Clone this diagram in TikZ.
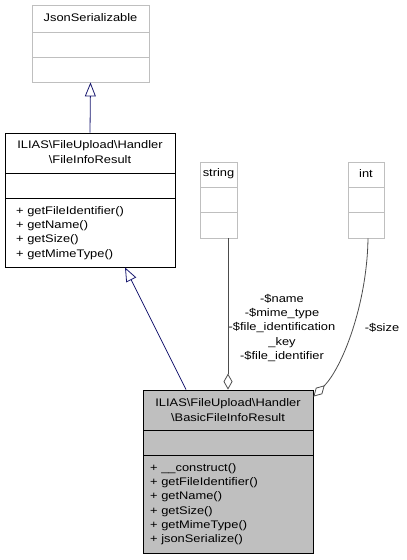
\documentclass[tikz,border=0pt]{standalone}
\usepackage{fontspec}
\setmainfont{Liberation Sans}[FakeStretch=1.17]
\usetikzlibrary{arrows.meta}
\begin{document}
\begin{tikzpicture}[x=1pt,y=-1pt,
  every node/.style={font=\fontsize{11}{14.3}\selectfont, inner sep=0pt},
  greybox/.style={draw=black!25, line width=0.8pt, fill=white, inner sep=0pt},
  blackbox/.style={draw=black, line width=0.8pt, fill=white, inner sep=0pt},
  basicbox/.style={draw=black, line width=0.8pt, fill=black!25, inner sep=0pt},
  inherit/.style={draw={rgb,255:red,25;green,25;blue,112}, line width=0.8pt, -{Triangle[open, length=14pt, width=11pt]}},
  agg/.style={draw=black!70, line width=0.8pt, -{Diamond[open, length=16pt, width=9pt]}},
]
\useasboundingbox (0,0) rectangle (407,560);
% JsonSerializable
\node[greybox, minimum width=117pt, minimum height=77pt] (json) at (90.5,43.5) {};
\draw[black!25, line width=0.8pt] (32,32) -- (149,32) (32,57) -- (149,57);
\node (jsonT) at (90.5,18) {JsonSerializable};
% FileInfoResult
\node[blackbox, minimum width=170pt, minimum height=134pt] (fir) at (90,200) {};
\draw[line width=0.8pt] (5,173) -- (175,173) (5,198) -- (175,198);
\node[align=center] (firT) at (90,152) {ILIAS\textbackslash FileUpload\textbackslash Handler\\\textbackslash FileInfoResult};
\node[align=left, anchor=north west] (firM) at (16,206) {+ getFileIdentifier()\\+ getName()\\+ getSize()\\+ getMimeType()};
% string
\node[greybox, minimum width=37pt, minimum height=76pt] (str) at (218.5,200) {};
\draw[black!25, line width=0.8pt] (200,187) -- (237,187) (200,212) -- (237,212);
\node (strT) at (218.5,174) {string};
% int
\node[greybox, minimum width=36pt, minimum height=76pt] (int) at (366,200) {};
\draw[black!25, line width=0.8pt] (348,187) -- (384,187) (348,212) -- (384,212);
\node (intT) at (366,174) {int};
% BasicFileInfoResult
\node[basicbox, minimum width=170pt, minimum height=163pt] (bas) at (228,471.5) {};
\draw[line width=0.8pt] (143,430) -- (313,430) (143,455) -- (313,455);
\node[align=center] (basT) at (228,410) {ILIAS\textbackslash FileUpload\textbackslash Handler\\\textbackslash BasicFileInfoResult};
\node[align=left, anchor=north west] (basM) at (150,463) {+ \_\_construct()\\+ getFileIdentifier()\\+ getName()\\+ getSize()\\+ getMimeType()\\+ jsonSerialize()};
% connectors
\draw[inherit] (fir.north) -- (json.south);
\draw[inherit] ([xshift=-42pt]bas.north) -- ([xshift=35pt]fir.south);
\draw[agg] ([xshift=9.5pt]str.south) -- (bas.north);
\coordinate (intEnd) at ([yshift=-7pt]bas.north east);
\draw[agg] ([xshift=2pt]int.south) .. controls (367,305) and (342,368) .. (intEnd);
\node[align=center] (lblS) at (282,328) {-\$name\\-\$mime\_type\\-\$file\_identification\\\_key\\-\$file\_identifier};
\node (lblI) at (382,328) {-\$size};
\end{tikzpicture}
\end{document}
